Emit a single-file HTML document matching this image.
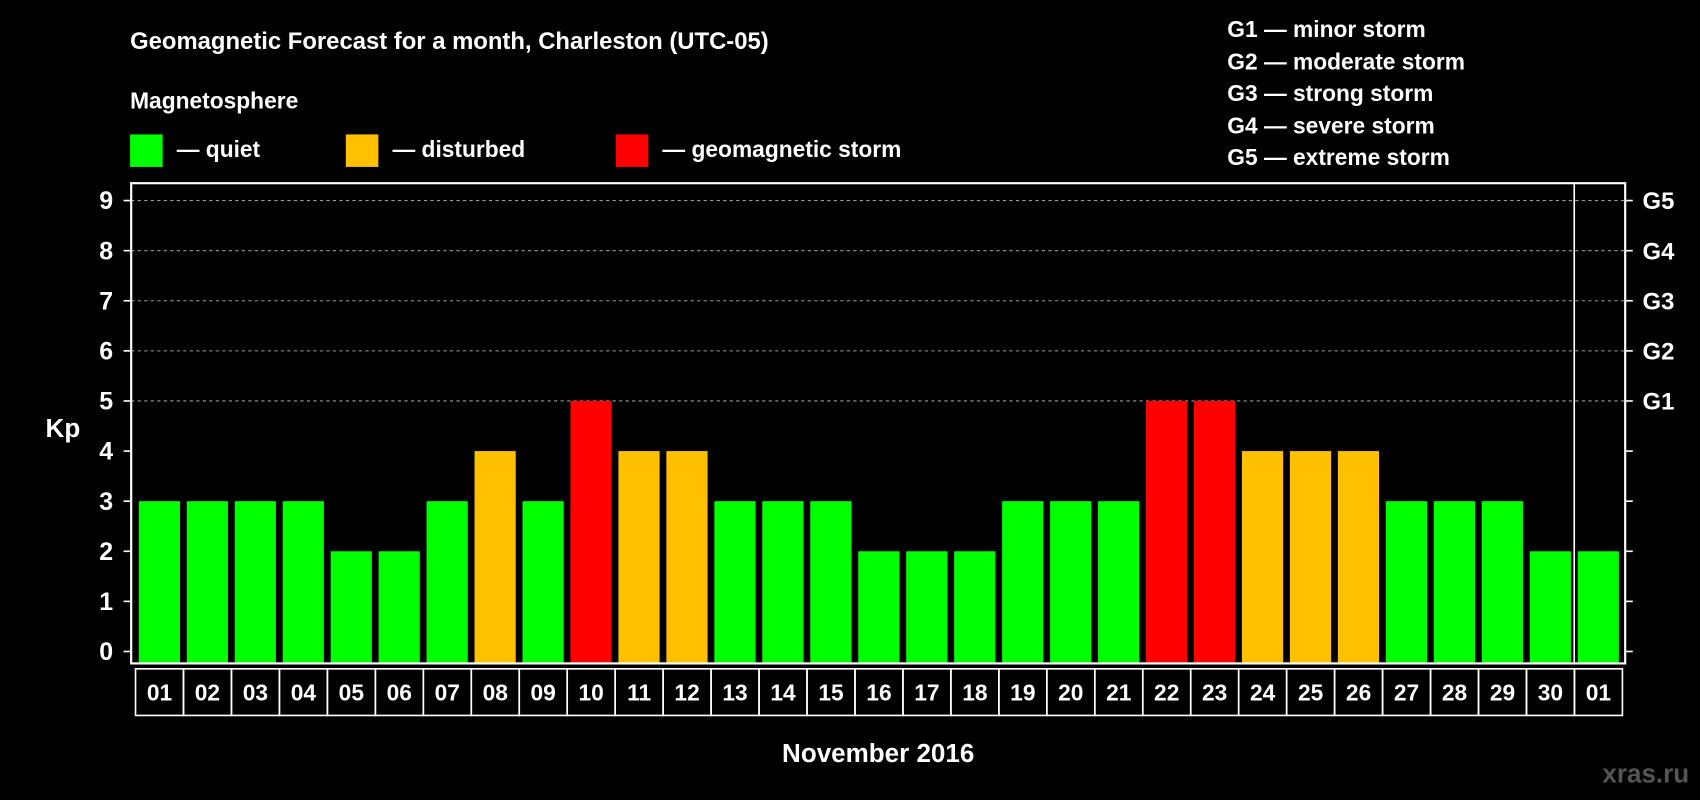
<!DOCTYPE html>
<html><head><meta charset="utf-8"><style>
html,body{margin:0;padding:0;background:#000;width:1700px;height:800px;overflow:hidden}
svg{display:block}
text{font-family:"Liberation Sans",Arial,sans-serif;font-weight:bold;fill:#fff}
</style></head><body>
<svg id="chart" width="1700" height="800" viewBox="0 0 1568 738" preserveAspectRatio="none">
<rect x="0" y="0" width="1568" height="738" fill="#000"/>
<text x="120" y="45" font-size="22">Geomagnetic Forecast for a month, Charleston (UTC-05)</text>
<text x="120" y="100" font-size="21">Magnetosphere</text>
<g><rect x="120" y="124" width="30" height="30" fill="#00ff00"/><text x="163" y="145" font-size="21">— quiet</text></g>
<g><rect x="319" y="124" width="30" height="30" fill="#ffc000"/><text x="362" y="145" font-size="21">— disturbed</text></g>
<g><rect x="568" y="124" width="30" height="30" fill="#ff0000"/><text x="611" y="145" font-size="21">— geomagnetic storm</text></g>
<g font-size="21">
<text x="1132" y="34">G1 — minor storm</text>
<text x="1132" y="64">G2 — moderate storm</text>
<text x="1132" y="93">G3 — strong storm</text>
<text x="1132" y="123">G4 — severe storm</text>
<text x="1132" y="152">G5 — extreme storm</text>
</g>
<text x="58" y="403" font-size="24" text-anchor="middle">Kp</text>
<text x="810" y="703" font-size="24" text-anchor="middle">November 2016</text>
<text x="1558" y="722" font-size="24" text-anchor="end" style="fill:#555">xras.ru</text>
<g id="grid"></g>
<g id="bars"></g>
<g id="axes"></g>
<rect x="121" y="169" width="1378" height="443" fill="none" stroke="#fff" stroke-width="2"/>
<line x1="1452" y1="169" x2="1452" y2="612" stroke="#fff" stroke-width="1.5"/>
</svg>
<script>
const days=["01","02","03","04","05","06","07","08","09","10","11","12","13","14","15","16","17","18","19","20","21","22","23","24","25","26","27","28","29","30","01"];
const kp=[3,3,3,3,2,2,3,4,3,5,4,4,3,3,3,2,2,2,3,3,3,5,5,4,4,4,3,3,3,2,2];
const yTicks=[0,1,2,3,4,5,6,7,8,9];
const gLevels=[5,6,7,8,9];
const gLabels=["G1","G2","G3","G4","G5"];
const NS="http://www.w3.org/2000/svg";
const y=v=>601-v*46.22;
const x=i=>128+i*44.24;
const bw=38;
function mk(t,a){const e=document.createElementNS(NS,t);for(const k in a)e.setAttribute(k,a[k]);return e;}
const grid=document.getElementById('grid'),bars=document.getElementById('bars'),axes=document.getElementById('axes');
gLevels.forEach((v,i)=>{
 const l=mk('line',{x1:121,x2:1499,y1:y(v),y2:y(v),stroke:'#999','stroke-dasharray':'3,3','stroke-width':1});
 
 
 grid.appendChild(l);
 const t=mk('text',{x:1515,y:y(v)+8,'font-size':22});t.textContent=gLabels[i];
 
 
 axes.appendChild(t);
});
yTicks.forEach(v=>{
 const l=mk('line',{x1:114,x2:121,y1:y(v),y2:y(v),stroke:'#fff','stroke-width':1.5});
 
 
 axes.appendChild(l);
 const r=mk('line',{x1:1499,x2:1506,y1:y(v),y2:y(v),stroke:'#fff','stroke-width':1.5});
 
 
 axes.appendChild(r);
 const t=mk('text',{x:98,y:y(v)+8,'font-size':23,'text-anchor':'middle'});t.textContent=v;
 
 
 axes.appendChild(t);
});
kp.forEach((v,i)=>{
 const c=v>=5?'#ff0000':(v>=4?'#ffc000':'#00ff00');
 const b=mk('rect',{x:x(i),y:y(v),width:bw,height:612-y(v),fill:c});
 
 
 bars.appendChild(b);
});
days.forEach((d,i)=>{
 const bx=x(i)-3;
 const r=mk('rect',{x:bx,y:617,width:44.24,height:43,fill:'none',stroke:'#fff','stroke-width':1.5});
 
 
 axes.appendChild(r);
 const t=mk('text',{x:bx+22.1,y:646,'font-size':21,'text-anchor':'middle'});t.textContent=d;
 
 
 axes.appendChild(t);
});
</script>
</body></html>
